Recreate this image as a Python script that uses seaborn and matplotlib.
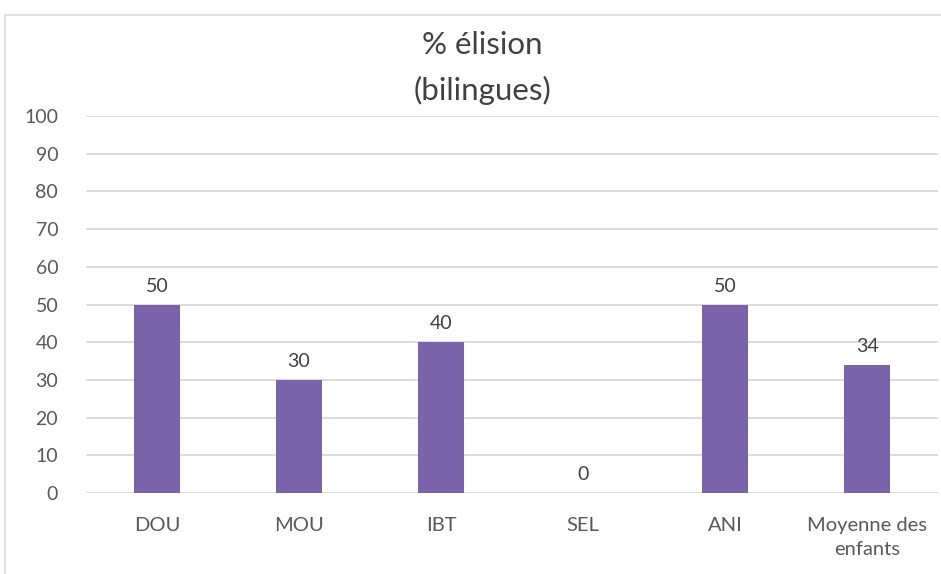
import matplotlib
matplotlib.use("Agg")
import matplotlib.pyplot as plt
import seaborn as sns
import pandas as pd
from matplotlib.patches import Rectangle

categories = ["DOU", "MOU", "IBT", "SEL", "ANI", "Moyenne des\nenfants"]
values = [50, 30, 40, 0, 50, 34]
yticks = [0, 10, 20, 30, 40, 50, 60, 70, 80, 90, 100]

sns.set_theme(style="white")
plt.rcParams["font.family"] = ["Lato", "DejaVu Sans"]

df = pd.DataFrame({"cat": categories, "val": values})

fig = plt.figure(figsize=(9.41, 5.74), dpi=100)
fig.patch.set_facecolor("white")
fig.patches.append(Rectangle((5 / 941, -0.1), 1.2, 1 - 15 / 574 + 0.1,
                             transform=fig.transFigure, fill=False,
                             edgecolor="#D9D9D9", linewidth=1.2))
ax = fig.add_axes([86 / 941, 1 - 493 / 574, 852 / 941, (493 - 116) / 574])

sns.barplot(data=df, x="cat", y="val", color="#7A63AB", width=0.32,
            saturation=1, ax=ax, zorder=3, linewidth=0, edgecolor="none")

ax.set_ylim(0, 100)
ax.set_yticks(yticks)
ax.set_xlim(-0.5, len(categories) - 0.5)
ax.yaxis.grid(True, color="#D9D9D9", linewidth=1.3, zorder=0)
ax.xaxis.grid(False)
for s in ax.spines.values():
    s.set_visible(False)
ax.set_xlabel("")
ax.set_ylabel("")
ax.tick_params(axis="y", length=0, pad=20, labelsize=14, labelcolor="#595959")
ax.tick_params(axis="x", length=0, pad=17, labelsize=14.5, labelcolor="#595959")
for lbl in ax.get_xticklabels():
    lbl.set_linespacing(1.55)

for container in ax.containers:
    ax.bar_label(container, labels=[f"{v:g}" for v in values], padding=7,
                 fontsize=14, color="#404040")

fig.text(482 / 941, 1 - 45 / 574, "% élision", ha="center", va="center",
         fontsize=22.5, color="#404040")
fig.text(482 / 941, 1 - 90 / 574, "(bilingues)", ha="center", va="center",
         fontsize=22.5, color="#404040")

fig.savefig("out.png", dpi=100, facecolor="white")
